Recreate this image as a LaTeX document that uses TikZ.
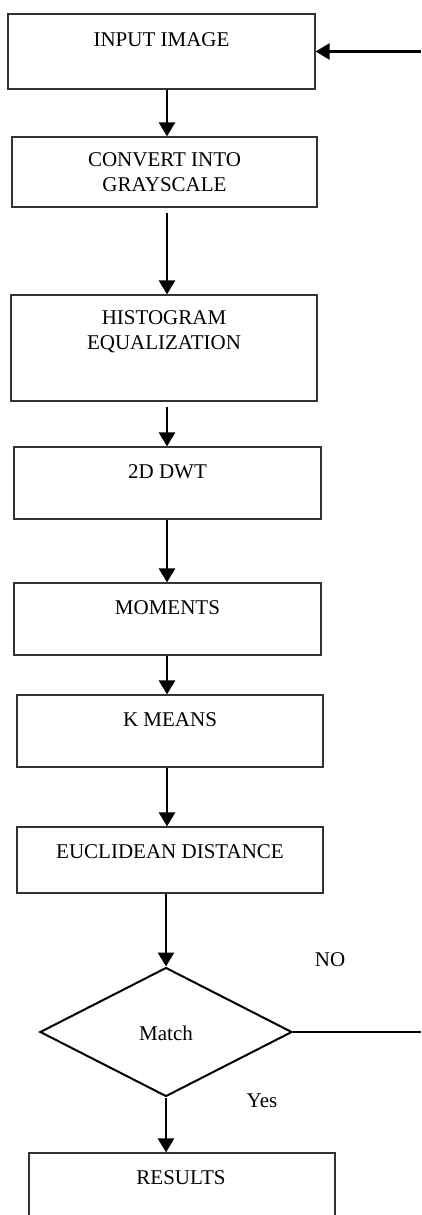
\documentclass[tikz,border=0pt]{standalone}
\usepackage{fontspec}
\setmainfont{Liberation Serif}
\usetikzlibrary{arrows.meta,shapes.geometric}
\tikzset{
  box/.style={draw=black!80, line width=1.2pt, rectangle, inner sep=0pt},
  txt/.style={anchor=north, inner sep=0pt, align=center, font=\fontsize{21}{25}\selectfont},
  arr/.style={line width=2.6pt, -{Triangle[length=14pt,width=16pt]}},
  plain/.style={line width=2pt},
  dia/.style={draw=black, line width=2pt, diamond, inner sep=0pt},
}
\begin{document}
\begin{tikzpicture}[x=1pt,y=-1pt]
\clip (0,0) rectangle (421,1215);
\fill[white] (0,0) rectangle (421,1215);
% boxes
\node[box, minimum width=307, minimum height=75] (b1) at (161.5,51.5) {};
\node[box, minimum width=305, minimum height=70] (b2) at (164.5,172) {};
\node[box, minimum width=306, minimum height=106] (b3) at (164,348) {};
\node[box, minimum width=307, minimum height=72] (b4) at (167.5,483) {};
\node[box, minimum width=307, minimum height=72] (b5) at (167.5,619) {};
\node[box, minimum width=306, minimum height=72] (b6) at (170,731) {};
\node[box, minimum width=306, minimum height=66] (b7) at (170,860) {};
\node[dia, minimum width=252, minimum height=129] (d) at (166,1032) {};
\node[box, minimum width=306, minimum height=92] (b8) at (182,1199) {};
% texts
\node[txt] (t1) at (161.5,32) {INPUT IMAGE};
\node[txt] (t2) at (164.5,152) {CONVERT INTO\\GRAYSCALE};
\node[txt] (t3) at (164,310) {HISTOGRAM\\EQUALIZATION};
\node[txt] (t4) at (167.5,464) {2D DWT};
\node[txt] (t5) at (167.5,600) {MOMENTS};
\node[txt] (t6) at (170,712) {K MEANS};
\node[txt] (t7) at (170,844) {EUCLIDEAN DISTANCE};
\node[txt] (t8) at (166,1026) {Match};
\node[txt] (t9) at (181,1170) {RESULTS};
\node[txt] (no) at (330,952) {NO};
\node[txt] (yes) at (262,1094) {Yes};
% connectors
\coordinate (ax) at (167,0);
\coordinate (r1) at (421,51.5);
\coordinate (r2) at (421,1032);
\draw[arr] (r1) -- (b1.east);
\draw[arr] (b1.south -| ax) -- (b2.north -| ax);
\draw[arr] (b2.south -| ax) ++(0,5) -- (b3.north -| ax);
\draw[arr] (b3.south -| ax) ++(0,5) -- (b4.north -| ax);
\draw[arr] (b4.south -| ax) -- (b5.north -| ax);
\draw[arr] (b5.south -| ax) -- (b6.north -| ax);
\draw[arr] (b6.south -| ax) -- (b7.north -| ax);
\draw[arr] (b7.south -| d.north) -- (d.north);
\draw[plain] (d.east) -- (r2);
\draw[arr] (d.south) -- (d.south |- b8.north);
\end{tikzpicture}
\end{document}
